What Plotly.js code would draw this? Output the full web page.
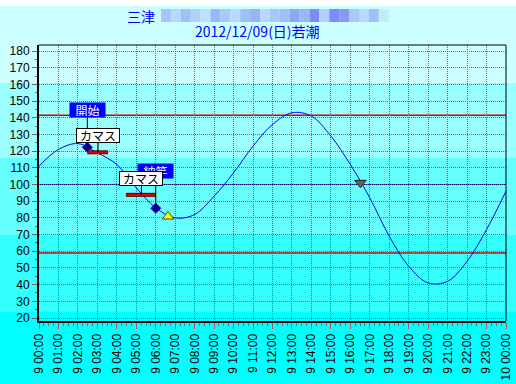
<!DOCTYPE html>
<html>
<head>
<meta charset="utf-8">
<script src="https://cdn.plot.ly/plotly-3.0.1.min.js"></script>
<style>
html,body{margin:0;padding:0;}
body{width:516px;height:384px;overflow:hidden;
background:linear-gradient(to bottom,#ffffff 0px,#ffffff 6px,#ccffff 6px,#ccffff 83px,#99ffff 83px,#99ffff 158px,#66ffff 158px,#66ffff 235px,#33ffff 235px,#33ffff 312px,#00ffff 312px,#00ffff 384px);}
#chart{width:516px;height:384px;}
</style>
</head>
<body>
<div id="chart"></div>
<script>
// ---- data ----
const tideHours = [0,1,2,3,4,5,6,7,8,9,10,11,12,13,14,15,16,17,18,19,20,21,22,23,24];
const tideLevels = [111,121,124.5,119,112,98,86,80,82,93,107,123,136,143,141,129,112,92,69,51,41,42,54,73,96];

const refRedLevels = [141.5, 59];
const midLevel = 100;

const eventTimes = ['2012-12-09 02:29', '2012-12-09 06:00'];
const eventLevels = [122.3, 85.8];
const eventLabels = ['開始', '納竿'];

const catchTimes = ['2012-12-09 03:02', '2012-12-09 05:16'];
const catchLevels = [119.3, 93.8];
const catchStart = ['2012-12-09 02:29', '2012-12-09 04:28'];
const catchEnd = ['2012-12-09 03:33', '2012-12-09 06:00'];
const catchLabels = ['カマス', 'カマス'];

const lowMarkTime = ['2012-12-09 06:38'];
const lowMarkLevel = [80.8];
const highMarkTime = ['2012-12-09 16:31'];
const highMarkLevel = [101];

const titleLine1 = '三津';
const titleLine2 = '2012/12/09(日)若潮';
const blurColors = ['#a8c4f8','#b8d8fc','#a0c0f8','#b0d0fc','#c0e0ff','#98b8f8','#a8c8fc','#b8d8ff','#a0c0f8','#98b4f4','#b8d8ff','#a8c8fc','#a0c0f8','#8aa8f4','#98b8f8','#7c8cf4','#b0d0ff','#7c8cf8','#8898f4','#a8c8fc','#b8d8ff','#a0c0f8','#c8e8ff'];

// ---- helpers ----
function hourToTime(h){
  const d = h >= 24 ? 10 : 9;
  const hh = h >= 24 ? h - 24 : h;
  return '2012-12-' + (d < 10 ? '0' + d : d) + ' ' + (hh < 10 ? '0' + hh : hh) + ':00';
}
const tideTimes = tideHours.map(hourToTime);

const M = {l:39, r:10, t:45, b:63};
const W = 516, H = 384;
const pw = W - M.l - M.r, ph = H - M.t - M.b;
const pxX = p => (p - M.l) / pw;
const pxY = p => (H - M.b - p) / ph;

const traces = [];
traces.push({x: tideTimes, y: tideLevels, mode:'lines', line:{color:'#0000ff', width:1, shape:'spline'}, hoverinfo:'skip'});
for (let i = 0; i < catchLabels.length; i++) {
  traces.push({x:[catchStart[i], catchEnd[i]], y:[catchLevels[i], catchLevels[i]], mode:'lines', line:{color:'#600000', width:4}, hoverinfo:'skip'});
  traces.push({x:[catchStart[i], catchEnd[i]], y:[catchLevels[i], catchLevels[i]], mode:'lines', line:{color:'#e00000', width:2}, hoverinfo:'skip'});
}
traces.push({x: eventTimes, y: eventLevels, mode:'markers', marker:{symbol:'diamond', size:8, color:'#000080', line:{color:'#3030ff', width:1}}});
traces.push({x: lowMarkTime, y: lowMarkLevel, mode:'markers', marker:{symbol:'triangle-up', size:10, color:'#ffff00', line:{color:'#505000', width:1}}});
traces.push({x: highMarkTime, y: highMarkLevel, mode:'markers', marker:{symbol:'triangle-down', size:10, color:'#606060', line:{color:'#202020', width:1}}});

const shapes = [];
refRedLevels.forEach(v => shapes.push({type:'line', xref:'paper', x0:0, x1:1, yref:'y', y0:v, y1:v, line:{color:'#e00000', width:1.5}, layer:'between'}));
shapes.push({type:'line', xref:'paper', x0:0, x1:1, yref:'y', y0:midLevel, y1:midLevel, line:{color:'#000080', width:1}, layer:'between'});
for (let i = 0; i < eventLabels.length; i++) {
  shapes.push({type:'line', xref:'x', x0:eventTimes[i], x1:eventTimes[i], yref:'y', ysizemode:'pixel', yanchor:eventLevels[i], y0:0, y1:30, line:{color:'#000000', width:1}, layer:'above'});
}
for (let i = 0; i < catchLabels.length; i++) {
  shapes.push({type:'line', xref:'x', x0:catchTimes[i], x1:catchTimes[i], yref:'y', ysizemode:'pixel', yanchor:catchLevels[i], y0:0, y1:10, line:{color:'#000000', width:1}, layer:'above'});
}
// top/right frame
shapes.push({type:'line', xref:'paper', yref:'paper', x0:0, x1:1, y0:1, y1:1, line:{color:'#000', width:1}, layer:'above'});
shapes.push({type:'line', xref:'paper', yref:'paper', x0:1, x1:1, y0:0, y1:1, line:{color:'#000', width:1}, layer:'above'});
// pixelated (blurred) part of the title
blurColors.forEach((c, i) => {
  const x0 = 161 + i * 9.9;
  shapes.push({type:'rect', xref:'paper', yref:'paper', x0:pxX(x0), x1:pxX(x0 + 9.9), y0:pxY(22), y1:pxY(9), line:{width:0}, fillcolor:c, layer:'above'});
});

const annotations = [];
annotations.push({xref:'paper', yref:'paper', x:pxX(141), y:pxY(16), xanchor:'center', yanchor:'middle', text:titleLine1, showarrow:false, font:{family:'Noto Sans CJK JP', size:14, color:'#0000ff'}});
annotations.push({xref:'paper', yref:'paper', x:pxX(257.5), y:pxY(31), xanchor:'center', yanchor:'middle', text:titleLine2, showarrow:false, font:{family:'Noto Sans CJK JP', size:14, color:'#0000ff'}});
for (let i = 0; i < eventLabels.length; i++) {
  annotations.push({x:eventTimes[i], y:eventLevels[i], yshift:37, text:eventLabels[i], showarrow:false, bgcolor:'#0000ff', width:33, height:12, borderpad:1, font:{family:'Noto Sans CJK JP', size:12, color:'#ffffff'}});
}
for (let i = 0; i < catchLabels.length; i++) {
  annotations.push({x:catchTimes[i], y:catchLevels[i], yshift:16.5, text:catchLabels[i], showarrow:false, bgcolor:'#ffffff', bordercolor:'#000000', borderwidth:1, width:40, height:11, borderpad:1, font:{family:'Noto Sans CJK JP', size:12, color:'#000000'}});
}

const tickFont = {family:'Liberation Sans', size:12, color:'#000000'};
const gridDash = '1px,1px';
const layout = {
  width: W, height: H,
  margin: M,
  paper_bgcolor:'rgba(0,0,0,0)', plot_bgcolor:'rgba(0,0,0,0)',
  showlegend:false,
  xaxis:{type:'date', range:['2012-12-09 00:00','2012-12-10 00:00'], tick0:'2012-12-09 00:00', dtick:3600000, tickformat:'%-d %H:%M', tickangle:-90,
    ticks:'outside', ticklen:6, tickcolor:'#9a6060', tickfont:tickFont,
    showgrid:true, gridcolor:'#806060', griddash:gridDash, gridwidth:1,
    showline:true, linecolor:'#000', linewidth:2, zeroline:false,
    minor:{dtick:900000, ticks:'outside', ticklen:3, tickcolor:'#9a6060', showgrid:false}},
  yaxis:{range:[18.2,183.6], tick0:0, dtick:10, ticks:'outside', ticklen:5, tickcolor:'#806060', tickfont:tickFont,
    showgrid:true, gridcolor:'#806060', griddash:gridDash, gridwidth:1,
    showline:true, linecolor:'#000', linewidth:2, zeroline:false,
    minor:{dtick:5, ticks:'outside', ticklen:2, tickcolor:'#806060', showgrid:false}},
  shapes: shapes,
  annotations: annotations
};
Plotly.newPlot('chart', traces, layout, {staticPlot:true, displayModeBar:false});
</script>
</body>
</html>
